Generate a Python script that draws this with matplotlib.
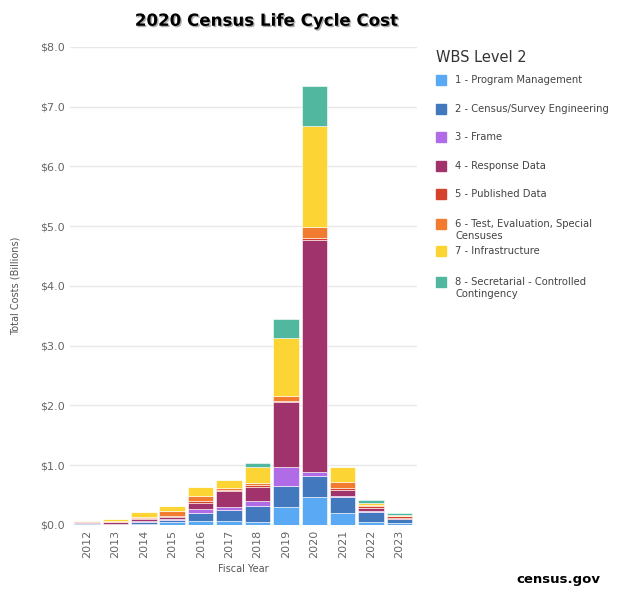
import matplotlib.pyplot as plt
import matplotlib.patches as patches
import matplotlib.patheffects as pe
import numpy as np

years = ['2012', '2013', '2014', '2015', '2016', '2017', '2018', '2019', '2020', '2021', '2022', '2023']
series_names = ['1 - Program Management', '2 - Census/Survey Engineering', '3 - Frame',
                '4 - Response Data', '5 - Published Data',
                '6 - Test, Evaluation, Special\nCensuses', '7 - Infrastructure',
                '8 - Secretarial - Controlled\nContingency']
colors = ['#5aa9f5', '#4178be', '#b06ce6', '#a0336b', '#d6412b', '#f17c30', '#fcd535', '#52b79f']

# segment values in $ billions, per year
program_mgmt = [0.01, 0.01, 0.02, 0.05, 0.07, 0.06, 0.05, 0.30, 0.47, 0.19, 0.05, 0.03]
survey_eng = [0.02, 0.01, 0.03, 0.03, 0.12, 0.19, 0.26, 0.35, 0.34, 0.27, 0.17, 0.06]
frame = [0.00, 0.00, 0.01, 0.01, 0.08, 0.05, 0.09, 0.31, 0.07, 0.03, 0.01, 0.005]
response = [0.01, 0.02, 0.03, 0.04, 0.09, 0.27, 0.24, 1.10, 3.89, 0.10, 0.05, 0.025]
published = [0.01, 0.01, 0.02, 0.02, 0.04, 0.02, 0.03, 0.02, 0.03, 0.02, 0.03, 0.02]
test_eval = [0.01, 0.01, 0.02, 0.08, 0.08, 0.03, 0.03, 0.08, 0.18, 0.11, 0.02, 0.01]
infra = [0.01, 0.03, 0.09, 0.09, 0.16, 0.13, 0.27, 0.97, 1.70, 0.24, 0.04, 0.02]
contingency = [0.00, 0.00, 0.00, 0.00, 0.00, 0.00, 0.06, 0.32, 0.67, 0.00, 0.05, 0.02]
series = [program_mgmt, survey_eng, frame, response, published, test_eval, infra, contingency]

fig = plt.figure(figsize=(6.19, 5.93), dpi=100)
ax = fig.add_axes([0.113, 0.115, 0.56, 0.806])

x = np.arange(len(years))
bottom = np.zeros(len(years))
for vals, c in zip(series, colors):
    ax.bar(x, vals, bottom=bottom, width=0.9, color=c, edgecolor='white', linewidth=0.4, zorder=3)
    bottom += np.array(vals)

ax.set_ylim(0, 8)
ax.set_xlim(-0.6, len(years) - 0.4)
ax.set_yticks(np.arange(0, 9))
ax.set_yticklabels([f'${v:.1f}' for v in range(9)], fontsize=8, color='#666666')
ax.set_xticks(x)
ax.set_xticklabels(years, rotation=90, fontsize=8, color='#666666')
ax.grid(axis='y', color='#e8e8e8', linewidth=1, zorder=0)
for s in ax.spines.values():
    s.set_visible(False)
ax.tick_params(length=0)
ax.set_xlabel('Fiscal Year', fontsize=7, color='#555555')
ax.set_ylabel('Total Costs (Billions)', fontsize=7, color='#555555', labelpad=14)

fig.text(0.43, 0.965, '2020 Census Life Cycle Cost', ha='center', va='center', fontsize=12,
         fontweight='bold', path_effects=[pe.withSimplePatchShadow(offset=(1, -1), shadow_rgbFace='#999999', alpha=0.8)])

# legend
W, H = 619, 593
fig.text(436 / W, 1 - 57 / H, 'WBS Level 2', fontsize=10.5, color='#333333', va='center')
legend_y = [80, 109, 137, 166, 194, 230, 251, 288]
for name, c, yy in zip(series_names, colors, legend_y):
    top_y = yy - 6 if '\n' in name else yy
    fig.patches.append(patches.Rectangle((436 / W, 1 - (top_y + 5) / H), 10 / W, 10 / H,
                                         transform=fig.transFigure, color=c))
    fig.text(455 / W, 1 - yy / H, name, fontsize=7.2, color='#444444', va='center', linespacing=1.2)

fig.text(0.97, 0.022, 'census.gov', ha='right', va='center', fontsize=9.5, fontweight='bold')

fig.savefig('out.png', dpi=100)
